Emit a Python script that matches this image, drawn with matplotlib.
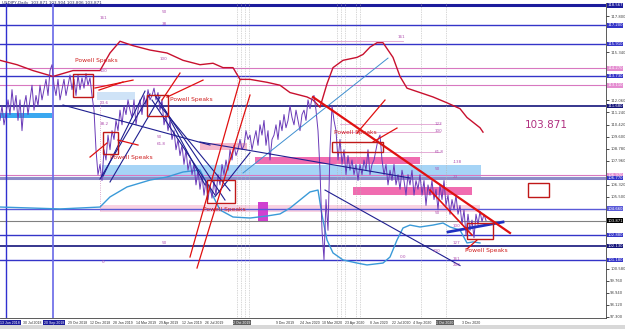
import matplotlib.pyplot as plt
import numpy as np
from matplotlib.patches import Rectangle
from matplotlib.transforms import blended_transform_factory

# USDJPY daily close, one value every 4 bars
price = [110.7, 111.7, 110.4, 111.2, 112.1, 111.1, 112.8, 111.4, 112.4, 110.7,
         112.1, 110.0, 111.7, 112.4, 111.1, 112.1, 113.1, 111.4, 112.4, 111.7,
         113.1, 112.1, 112.8, 113.5, 112.4, 114.1, 114.5, 113.1, 112.4, 113.5,
         112.1, 112.8, 113.5, 112.4, 113.1, 113.8, 112.8, 113.5, 112.4, 113.8,
         112.8, 113.6, 112.9, 113.9, 113.1, 113.6, 112.4, 111.4, 108.7, 107.0,
         107.7, 106.6, 108.7, 108.0, 109.7, 108.7, 110.0, 109.4, 110.7, 110.0,
         111.4, 110.4, 111.7, 111.1, 112.1, 111.4, 110.9, 112.1, 110.4, 111.4,
         112.1, 111.1, 112.4, 111.7, 112.8, 112.1, 112.4, 112.9, 112.1, 112.6,
         111.4, 112.1, 110.4, 111.1, 110.0, 110.7, 109.4, 110.0, 108.7, 109.4,
         108.3, 109.0, 107.7, 108.7, 107.3, 108.0, 107.0, 107.7, 106.3, 107.3,
         106.0, 107.0, 105.6, 106.6, 105.3, 106.3, 105.4, 106.6, 105.6, 107.0,
         106.3, 107.7, 107.0, 108.0, 107.3, 108.7, 108.0, 109.0, 108.3, 108.7,
         109.4, 108.7, 109.0, 110.0, 109.4, 109.7, 108.7, 109.4, 110.0, 109.0,
         110.4, 109.7, 110.7, 109.0, 110.0, 108.0, 109.4, 109.7, 110.4, 109.4,
         110.7, 110.0, 111.1, 110.2, 110.7, 111.7, 110.9, 110.4, 111.4, 110.7,
         110.0, 111.1, 111.4, 110.7, 112.1, 111.5, 112.2, 112.4, 111.4, 110.0,
         107.3, 103.2, 101.2, 105.3, 103.2, 108.7, 111.7, 110.7, 110.0, 108.0,
         109.4, 107.7, 108.7, 107.0, 108.3, 107.3, 108.0, 107.0, 107.7, 106.6,
         107.7, 107.0, 108.0, 107.3, 108.7, 107.0, 107.7, 108.0, 108.7, 109.4,
         109.7, 108.0, 107.0, 107.7, 106.3, 107.3, 106.6, 107.7, 106.3, 107.0,
         106.0, 107.3, 106.6, 105.6, 107.0, 106.3, 107.3, 105.6, 106.6, 106.0,
         107.0, 105.6, 106.6, 104.9, 106.3, 105.6, 106.6, 105.3, 106.0, 104.6,
         106.3, 105.3, 106.6, 104.9, 105.6, 104.3, 105.3, 104.6, 105.6, 104.3,
         104.9, 103.6, 104.6, 102.9, 104.3, 103.2, 103.9, 102.7, 104.3, 103.6,
         104.5, 103.8, 104.3, 103.87]
bars = np.arange(0, 4 * len(price), 4)

# upper (red) envelope
red_x = [0, 34, 66, 106, 146, 200, 220, 240, 266, 300, 334, 366, 400, 426, 446, 466, 480, 500,
         534, 560, 580, 614, 626, 640, 654, 666, 686, 714, 726, 740, 754, 766, 786, 800, 814,
         840, 866, 894, 920, 934, 960, 966]
red_y = [114.8, 114.5, 114.1, 113.7, 114.1, 114.1, 115.3, 116.1, 115.8, 115.5, 115.3, 114.8,
         114.5, 114.6, 114.3, 114.3, 113.5, 113.5, 113.3, 113.1, 112.6, 112.3, 112.1, 111.6,
         113.2, 114.3, 114.8, 115.0, 115.2, 115.7, 116.0, 116.0, 115.0, 113.7, 112.9, 112.6,
         112.3, 111.9, 111.5, 110.9, 110.2, 109.9]

# lower (blue) envelope
blue_x = [0, 66, 120, 200, 220, 254, 300, 334, 366, 400, 420, 440, 466, 500, 534, 560, 580, 600,
          620, 636, 644, 654, 666, 686, 714, 734, 766, 780, 794, 806, 820, 840, 866, 886, 900,
          920, 934, 946, 960]
blue_y = [104.79, 104.72, 104.66, 104.79, 105.48, 106.16, 106.63, 106.84, 107.18, 107.32,
          105.95, 104.59, 104.11, 104.04, 104.18, 104.32, 104.72, 105.27, 105.82, 105.95,
          104.25, 102.54, 101.66, 101.18, 100.97, 100.84, 100.97, 101.38, 102.54, 103.36,
          103.56, 103.43, 103.56, 103.70, 103.43, 103.22, 102.34, 102.41, 102.34]

# horizontal levels: price, line colour, width, label box colour
levels = [118.567, 117.200, 115.910, 114.270, 113.730, 113.110, 111.680, 106.970, 106.770,
          104.660, 103.871, 102.880, 102.130, 101.180]
level_col = ['#1c1c9c', '#3434c8', '#3434c8', '#d878c0', '#3434c8', '#d878c0', '#14147a',
             '#d878c0', '#8c8cc8', '#5a5ad8', '#808080', '#3434c8', '#14147a', '#3434c8']
level_lw = [2.2, 1, 1, 0.8, 1, 0.8, 1.2, 0.8, 2.2, 1, 0.8, 1, 1.2, 1]
label_col = ['#1c1c9c', '#3434c8', '#3434c8', '#e48cd0', '#3434c8', '#e48cd0', '#14147a',
             '#e48cd0', '#3434c8', '#5a5ad8', '#000000', '#3434c8', '#14147a', '#3434c8']

# shaded zones: x0, x1, low, high, colour
zones = [(0, 104, 110.86, 111.20, '#3aa8f0'),
         (194, 270, 112.09, 112.64, '#cfe3f7'),
         (204, 962, 106.84, 107.66, '#a6d4f6'),
         (400, 494, 108.68, 109.16, '#f5b8cc'),
         (510, 840, 107.70, 108.20, '#f06cb0'),
         (706, 944, 105.61, 106.16, '#f06cb0'),
         (200, 960, 104.45, 104.93, '#f9d2e2'),
         (516, 536, 103.77, 105.13, '#d040d0')]

# red boxes around the Powell events
boxes = [(146, 186, 112.29, 113.86), (294, 336, 111.00, 112.43), (206, 236, 108.41, 109.91),
         (414, 470, 105.07, 106.63), (664, 766, 108.54, 109.23), (934, 986, 102.61, 103.70),
         (1056, 1098, 105.48, 106.43)]
powell_x = [150, 340, 220, 406, 668, 930]
powell_y = [114.61, 111.95, 108.00, 104.45, 109.70, 101.66]

# red drawings (x0, y0, x1, y1, width)
red_lines = [(266, 113.45, 190, 112.91, 0.9), (246, 113.32, 198, 112.77, 0.9),
             (360, 113.93, 324, 112.09, 0.9), (406, 113.45, 334, 112.29, 0.9),
             (180, 108.20, 214, 109.16, 0.9), (276, 109.02, 236, 109.36, 0.9),
             (380, 101.38, 480, 113.45, 0.9), (394, 100.63, 500, 112.43, 0.9),
             (770, 112.09, 714, 109.84, 0.9), (794, 110.18, 746, 109.23, 0.9),
             (626, 112.29, 1020, 103.02, 1.6), (860, 105.95, 944, 102.88, 1.2),
             (934, 101.93, 954, 102.54, 0.9)]

# blue trend lines (x0, y0, x1, y1)
navy_lines = [(126, 111.75, 420, 109.02), (400, 109.23, 820, 106.77),
              (200, 106.70, 300, 112.50), (206, 106.90, 290, 112.70), (220, 106.50, 320, 112.30),
              (304, 112.09, 430, 105.61), (310, 112.43, 450, 105.27), (320, 111.70, 460, 105.90),
              (330, 111.40, 410, 106.30), (430, 105.50, 500, 108.50),
              (650, 105.95, 920, 100.80)]

date_pos = [46, 136, 180, 226, 272, 318, 364, 410, 552, 600, 644, 690, 740, 784, 826, 924]
date_txt = ['30 Jul 2018', '29 Oct 2018', '12 Dec 2018', '28 Jan 2019', '14 Mar 2019',
            '29 Apr 2019', '12 Jun 2019', '26 Jul 2019', '9 Dec 2019', '24 Jan 2020',
            '10 Mar 2020', '23 Apr 2020', '8 Jun 2020', '22 Jul 2020', '4 Sep 2020', '3 Dec 2020']

fig = plt.figure(figsize=(6.25, 3.29), dpi=100)
ax = fig.add_axes([0, 11 / 329, 606 / 625, 315 / 329])
ax.set_xlim(0, 1212)
ax.set_ylim(97.22, 118.71)

for x0, x1, lo, hi, c in zones:
    ax.add_patch(Rectangle((x0, lo), x1 - x0, hi - lo, color=c, lw=0, zorder=1))

for p, c, w in zip(levels, level_col, level_lw):
    ax.axhline(p, color=c, lw=w, zorder=2)

# vertical markers
ax.axvline(12, color='#3030d0', lw=1, zorder=2)
ax.axvline(106, color='#6868e8', lw=1.2, zorder=2)
for v in [474, 482, 490, 498, 674, 682, 690, 712, 720, 842, 892]:
    ax.axvline(v, color='#b0b0b0', lw=0.5, ls=(0, (1, 1.5)), zorder=2)
ax.plot([200, 200], [104.6, 112.0], color='#d090c0', lw=0.6, ls=':', zorder=2)

ax.plot(red_x, red_y, color='#c8102e', lw=1, zorder=3)
ax.plot(blue_x, blue_y, color='#3a9ad8', lw=1, zorder=3)
ax.plot(bars, price, color='#6a3ab8', lw=0.7, zorder=4)

ax.plot([486, 776], [107.11, 114.95], color='#3f8fd0', lw=0.7, zorder=4)
ax.plot([896, 1006], [103.09, 103.77], color='#2030c0', lw=2, zorder=5)
for x0, y0, x1, y1 in navy_lines:
    ax.plot([x0, x1], [y0, y1], color='#1f1f90', lw=0.8, zorder=5)

for x0, y0, x1, y1, w in red_lines:
    ax.plot([x0, x1], [y0, y1], color='#e01010', lw=w, zorder=6)

for x0, x1, lo, hi in boxes:
    ax.add_patch(Rectangle((x0, lo), x1 - x0, hi - lo, fill=False, ec='#c01818', lw=1, zorder=6))
for x, y in zip(powell_x, powell_y):
    ax.text(x, y, 'Powell Speaks', color='#d02020', fontsize=4.3, zorder=7, va='bottom')

# fibonacci level labels
fib_x = [200, 324, 324, 320, 200, 200, 200, 314, 314, 796, 870, 870, 870, 906, 870, 906,
         870, 906, 906, 866, 906, 906, 324, 204, 800]
fib_y = [117.6, 118.0, 117.2, 114.8, 114.0, 111.8, 110.4, 109.5, 109.0, 116.3, 110.4, 109.9,
         108.5, 107.8, 107.3, 106.8, 104.3, 103.4, 102.3, 101.7, 101.2, 100.8, 102.3, 101.0, 101.3]
fib_t = ['161', '50', '38', '100', '100', '23.6', '38.2', '50', '61.8', '161', '123', '100',
         '61.8', '-138', '50', '23', '50', '100', '127', '100', '161', '200', '50', '0', '0.0']
for x, y, t in zip(fib_x, fib_y, fib_t):
    ax.text(x, y, t, color='#b050b0', fontsize=3, zorder=7)
ax.plot([640, 806], [116.1, 116.1], color='#e0a0d0', lw=0.6, zorder=3)
ax.plot([680, 880], [110.45, 110.45], color='#e0a0d0', lw=0.6, zorder=3)
ax.plot([680, 880], [109.9, 109.9], color='#e0a0d0', lw=0.6, zorder=3)
ax.plot([680, 880], [108.55, 108.55], color='#e0a0d0', lw=0.6, zorder=3)

ax.text(1092, 110.4, '103.871', color='#b03080', fontsize=7.5, ha='center', va='center')

# right price scale; ticks hidden under a level label are dropped
ax.yaxis.tick_right()
ticks = [t for t in np.arange(97.30, 118.0, 0.82) if min(abs(t - p) for p in levels) > 0.3]
ax.set_yticks(ticks)
ax.set_yticklabels(['%.3f' % t for t in ticks], fontsize=2.7, color='#404040')
ax.tick_params(axis='y', length=2, width=0.5, pad=1)
ax.set_xticks([])
for p, c in zip(levels, label_col):
    ax.text(1.002, p, '%.3f' % p, transform=blended_transform_factory(ax.transAxes, ax.transData),
            fontsize=2.7, color='white', va='center', ha='left', clip_on=False, zorder=8,
            bbox=dict(boxstyle='square,pad=0.12', fc=c, ec='none'))

# date scale
tb = blended_transform_factory(ax.transData, ax.transAxes)
for x, t in zip(date_pos, date_txt):
    ax.text(x, -0.008, t, transform=tb, fontsize=2.5, family='Liberation Sans', color='#303030',
            va='top', ha='left')
for x, t, c, h in [(1, '13 Jun 2018', '#1c1c9c', 'left'), (108, '20 Sep 2018', '#1c1c9c', 'center'),
                   (484, '2 Oct 2019', '#606060', 'center'),
                   (890, '1 Oct 2020', '#606060', 'center')]:
    ax.text(x, -0.008, t, transform=tb, fontsize=2.5, family='Liberation Sans', color='white',
            va='top', ha=h, bbox=dict(boxstyle='square,pad=0.15', fc=c, ec='none'), clip_on=False)

for s in ['left', 'top']:
    ax.spines[s].set_visible(False)
ax.spines['right'].set_color('#404040')
ax.spines['bottom'].set_color('#404040')
ax.spines['right'].set_linewidth(0.6)
ax.spines['bottom'].set_linewidth(0.6)

fig.text(0.003, 0.997, 'USDJPY,Daily  103.871 103.904 103.806 103.871', fontsize=3, color='#303060',
         va='top')
fig.add_artist(Rectangle((0, 0), 1, 4 / 329, transform=fig.transFigure, color='#d8d8d8', lw=0))

fig.savefig('out.png', dpi=100)
